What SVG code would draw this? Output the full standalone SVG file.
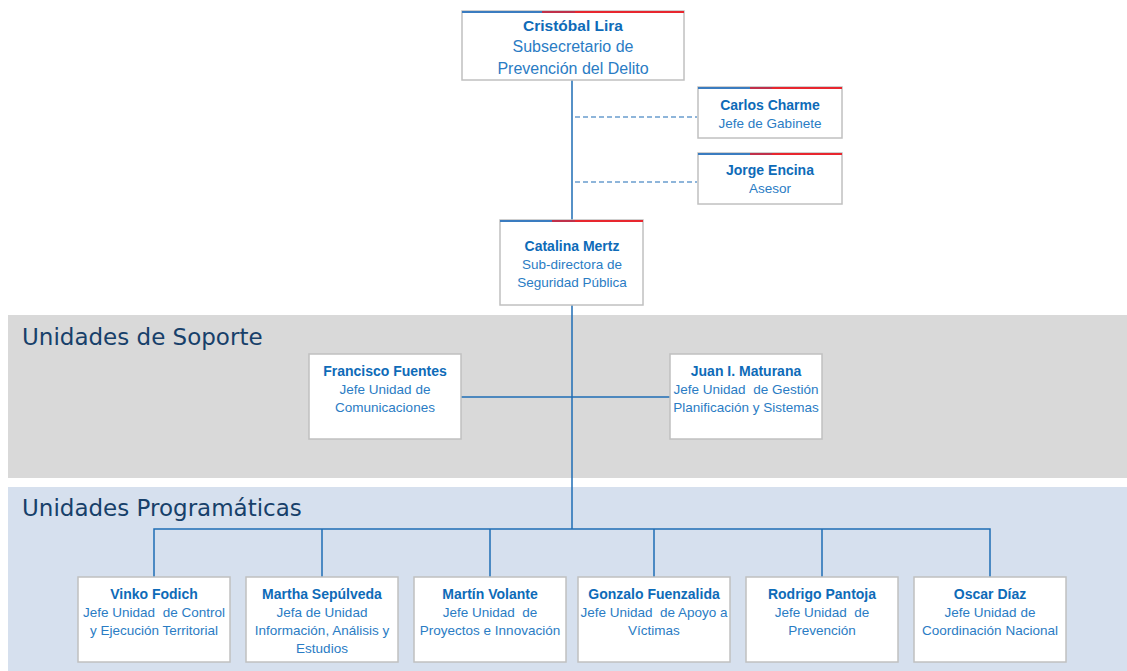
<svg xmlns="http://www.w3.org/2000/svg" width="1127" height="671" viewBox="0 0 1127 671">
<style>
.box{fill:#fff;stroke:#c0c0c0;stroke-width:1.5}
.n{font-family:"Liberation Sans",Arial,sans-serif;font-weight:bold;fill:#0e6bb8;text-anchor:middle;font-size:14px}
.t{font-family:"Liberation Sans",Arial,sans-serif;fill:#2a7cc4;text-anchor:middle;font-size:13.5px;white-space:pre}
.big .n{font-size:15.5px}
.big .t{font-size:16px}
.lbl{font-family:"DejaVu Sans",Verdana,sans-serif;font-size:23px;fill:#17406a}
.ln{stroke:#1f6db5;stroke-width:1.5;fill:none}
.dash{stroke:#1f6db5;stroke-width:1.2;stroke-dasharray:5 3;fill:none}
.sb{stroke:#3a7cc0;stroke-width:2}
.sd{stroke:#c0304a;stroke-width:2}
.sr{stroke:#e8262e;stroke-width:2}
</style>
<rect width="1127" height="671" fill="#fff"/>
<rect x="8" y="315" width="1119" height="163" fill="#d9d9d9"/>
<rect x="8" y="487" width="1119" height="184" fill="#d6e0ee"/>
<text class="lbl" x="22" y="345">Unidades de Soporte</text>
<text class="lbl" x="22" y="516">Unidades Programáticas</text>
<g id="connectors">
<path class="ln" d="M572 80V220M572 305V529M461 397H670M154 577V529H990V577M322 529V577M490 529V577M654 529V577M822 529V577"/>
<path class="dash" d="M575 117H697M575 182H697"/>
</g>
<g id="lira" class="big">
<rect class="box" x="462" y="11" width="222" height="69"/>
<line class="sb" x1="462" y1="12" x2="542" y2="12"/><line class="sd" x1="542" y1="12" x2="575" y2="12"/><line class="sr" x1="575" y1="12" x2="684" y2="12"/>
<text class="n" x="573" y="31">Cristóbal Lira</text>
<text class="t" x="573" y="52">Subsecretario de</text>
<text class="t" x="573" y="74">Prevención del Delito</text>
</g>
<g id="charme">
<rect class="box" x="698" y="87" width="144" height="51"/>
<line class="sb" x1="698" y1="88" x2="750" y2="88"/><line class="sd" x1="750" y1="88" x2="772" y2="88"/><line class="sr" x1="772" y1="88" x2="842" y2="88"/>
<text class="n" x="770" y="110">Carlos Charme</text>
<text class="t" x="770" y="128">Jefe de Gabinete</text>
</g>
<g id="encina">
<rect class="box" x="698" y="153" width="144" height="51"/>
<line class="sb" x1="698" y1="154" x2="750" y2="154"/><line class="sd" x1="750" y1="154" x2="772" y2="154"/><line class="sr" x1="772" y1="154" x2="842" y2="154"/>
<text class="n" x="770" y="175">Jorge Encina</text>
<text class="t" x="770" y="193">Asesor</text>
</g>
<g id="mertz">
<rect class="box" x="500" y="220" width="143" height="85"/>
<line class="sb" x1="500" y1="221" x2="552" y2="221"/><line class="sd" x1="552" y1="221" x2="575" y2="221"/><line class="sr" x1="575" y1="221" x2="643" y2="221"/>
<text class="n" x="572" y="251">Catalina Mertz</text>
<text class="t" x="572" y="269">Sub-directora de</text>
<text class="t" x="572" y="287">Seguridad Pública</text>
</g>
<g id="fuentes">
<rect class="box" x="309" y="354" width="152" height="85"/>
<text class="n" x="385" y="376">Francisco Fuentes</text>
<text class="t" x="385" y="394">Jefe Unidad de</text>
<text class="t" x="385" y="412">Comunicaciones</text>
</g>
<g id="maturana">
<rect class="box" x="670" y="354" width="152" height="85"/>
<text class="n" x="746" y="376">Juan I. Maturana</text>
<text class="t" x="746" y="394">Jefe Unidad  de Gestión</text>
<text class="t" x="746" y="412">Planificación y Sistemas</text>
</g>
<g id="fodich">
<rect class="box" x="78" y="577" width="152" height="85"/>
<text class="n" x="154" y="599">Vinko Fodich</text>
<text class="t" x="154" y="617">Jefe Unidad  de Control</text>
<text class="t" x="154" y="635">y Ejecución Territorial</text>
</g>
<g id="sepulveda">
<rect class="box" x="246" y="577" width="152" height="85"/>
<text class="n" x="322" y="599">Martha Sepúlveda</text>
<text class="t" x="322" y="617">Jefa de Unidad</text>
<text class="t" x="322" y="635">Información, Análisis y</text>
<text class="t" x="322" y="653">Estudios</text>
</g>
<g id="volante">
<rect class="box" x="414" y="577" width="152" height="85"/>
<text class="n" x="490" y="599">Martín Volante</text>
<text class="t" x="490" y="617">Jefe Unidad  de</text>
<text class="t" x="490" y="635">Proyectos e Innovación</text>
</g>
<g id="fuenzalida">
<rect class="box" x="578" y="577" width="152" height="85"/>
<text class="n" x="654" y="599">Gonzalo Fuenzalida</text>
<text class="t" x="654" y="617">Jefe Unidad  de Apoyo a</text>
<text class="t" x="654" y="635">Víctimas</text>
</g>
<g id="pantoja">
<rect class="box" x="746" y="577" width="152" height="85"/>
<text class="n" x="822" y="599">Rodrigo Pantoja</text>
<text class="t" x="822" y="617">Jefe Unidad  de</text>
<text class="t" x="822" y="635">Prevención</text>
</g>
<g id="diaz">
<rect class="box" x="914" y="577" width="152" height="85"/>
<text class="n" x="990" y="599">Oscar Díaz</text>
<text class="t" x="990" y="617">Jefe Unidad de</text>
<text class="t" x="990" y="635">Coordinación Nacional</text>
</g>
</svg>
